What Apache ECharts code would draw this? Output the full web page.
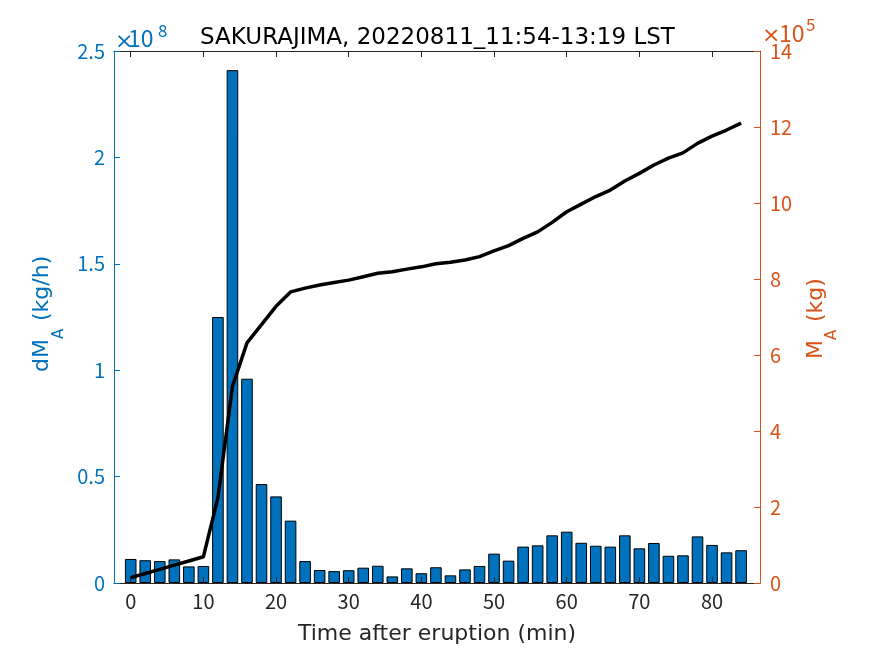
<!DOCTYPE html>
<html>
<head>
<meta charset="utf-8">
<script src="https://cdn.jsdelivr.net/npm/echarts@6/dist/echarts.min.js"></script>
<style>html,body{margin:0;padding:0;background:#fff;}#c{width:875px;height:656px;}</style>
</head>
<body>
<div id="c"></div>
<script>
const times = [0,2,4,6,8,10,12,14,16,18,20,22,24,26,28,30,32,34,36,38,40,42,44,46,48,50,52,54,56,58,60,62,64,66,68,70,72,74,76,78,80,82,84];
const dMA = [1.13e7,1.07e7,1.03e7,1.11e7,0.78e7,0.80e7,12.5e7,24.1e7,9.6e7,4.65e7,4.07e7,2.93e7,1.03e7,0.61e7,0.56e7,0.60e7,0.72e7,0.81e7,0.31e7,0.69e7,0.46e7,0.74e7,0.36e7,0.64e7,0.80e7,1.38e7,1.05e7,1.71e7,1.77e7,2.24e7,2.41e7,1.89e7,1.75e7,1.71e7,2.24e7,1.63e7,1.88e7,1.28e7,1.30e7,2.19e7,1.79e7,1.44e7,1.54e7];
const MA = [0.14e5,0.25e5,0.36e5,0.47e5,0.58e5,0.69e5,2.24e5,5.17e5,6.32e5,6.80e5,7.28e5,7.66e5,7.76e5,7.84e5,7.91e5,7.97e5,8.06e5,8.15e5,8.19e5,8.26e5,8.32e5,8.40e5,8.44e5,8.50e5,8.59e5,8.74e5,8.88e5,9.07e5,9.24e5,9.49e5,9.77e5,9.97e5,10.17e5,10.34e5,10.58e5,10.78e5,11.00e5,11.18e5,11.32e5,11.57e5,11.76e5,11.92e5,12.10e5];
const xTicks = [0,10,20,30,40,50,60,70,80];
const titleText = 'SAKURAJIMA, 20220811_11:54-13:19 LST';
const xLabel = 'Time after eruption (min)';

const TFONT = '"Noto Sans CJK JP", "Noto Sans", sans-serif';
const LFONT = '"DejaVu Sans", sans-serif';
const BLUE = '#0072BD', ORANGE = '#D95319', DARK = '#262626';
const R = Math.PI / 2;

const chart = echarts.init(document.getElementById('c'), null, {renderer: 'canvas'});
const xCommon = {
  type: 'value', min: -2.3, max: 86.6,
  axisLine: {show: true, onZero: false, lineStyle: {color: DARK, width: 1}},
  axisTick: {show: true, inside: true, length: 6, customValues: xTicks, lineStyle: {color: DARK}},
  splitLine: {show: false}, z: 5
};
function rtext(txt, x, y, size, color, align) {
  return {type: 'text', x: x, y: y, rotation: R,
    style: {text: txt, fontSize: size, fontFamily: LFONT, fill: color, align: align, verticalAlign: 'middle'}};
}
function ptext(txt, x, y, size, color, font) {
  return {type: 'text', x: x, y: y,
    style: {text: txt, fontSize: size, fontFamily: font, fill: color, align: 'left', verticalAlign: 'middle'}};
}
chart.setOption({
  animation: false,
  backgroundColor: '#fff',
  title: {text: titleText, left: 'center', top: 22,
    textStyle: {fontSize: 23, fontWeight: 'normal', color: '#000', fontFamily: LFONT}},
  grid: {left: 114, right: 115, top: 51, bottom: 73},
  xAxis: [
    Object.assign({}, xCommon, {position: 'bottom',
      axisLabel: {show: true, customValues: xTicks, fontSize: 20, color: DARK, fontFamily: TFONT, margin: 8},
      name: xLabel, nameLocation: 'middle', nameGap: 40,
      nameTextStyle: {fontSize: 22, color: DARK, fontFamily: LFONT}}),
    Object.assign({}, xCommon, {position: 'top', axisLabel: {show: false}})
  ],
  yAxis: [
    {type: 'value', position: 'left', min: 0, max: 2.5e8, interval: 0.5e8, z: 5,
      axisLine: {show: true, onZero: false, lineStyle: {color: BLUE}},
      axisTick: {show: true, inside: true, length: 6, lineStyle: {color: BLUE}},
      splitLine: {show: false},
      axisLabel: {fontSize: 20, color: BLUE, fontFamily: TFONT, margin: 9,
        formatter: v => String(+(v / 1e8).toFixed(1))}},
    {type: 'value', position: 'right', min: 0, max: 14e5, interval: 2e5, z: 5,
      axisLine: {show: true, onZero: false, lineStyle: {color: ORANGE}},
      axisTick: {show: true, inside: true, length: 6, lineStyle: {color: ORANGE}},
      splitLine: {show: false},
      axisLabel: {fontSize: 20, color: ORANGE, fontFamily: TFONT, margin: 10,
        formatter: v => String(Math.round(v / 1e5))}}
  ],
  graphic: [
    // left y label: dM_A (kg/h)
    rtext('dM', 42, 372, 22, BLUE, 'left'),
    rtext('A', 59, 339, 15, BLUE, 'left'),
    rtext(' (kg/h)', 42, 328, 22, BLUE, 'left'),
    // right y label: M_A (kg)
    rtext('M', 816, 359, 22, ORANGE, 'left'),
    rtext('A', 832, 340, 15, ORANGE, 'left'),
    rtext(' (kg)', 816, 329, 22, ORANGE, 'left'),
    // exponent labels
    ptext('×', 115, 42, 22, BLUE, LFONT),
    ptext('10', 128, 38, 23, BLUE, TFONT),
    ptext('8', 158, 31, 17, BLUE, TFONT),
    ptext('×', 762, 36, 22, ORANGE, LFONT),
    ptext('10', 779, 33.5, 23, ORANGE, TFONT),
    ptext('5', 806, 24.5, 17, ORANGE, TFONT)
  ],
  series: [
    {type: 'bar', xAxisIndex: 0, yAxisIndex: 0, barWidth: 11.6,
      data: times.map((t, i) => [t, dMA[i]]),
      itemStyle: {color: BLUE, borderColor: '#000', borderWidth: 1}},
    {type: 'line', xAxisIndex: 0, yAxisIndex: 1, showSymbol: false, z: 4,
      data: times.map((t, i) => [t, MA[i]]),
      lineStyle: {color: '#000', width: 3.5}}
  ]
});
</script>
</body>
</html>
